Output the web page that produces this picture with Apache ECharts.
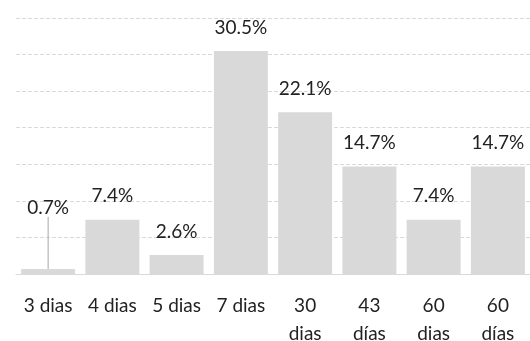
<!DOCTYPE html>
<html>
<head>
<meta charset="utf-8">
<script src="https://cdn.jsdelivr.net/npm/echarts@6/dist/echarts.min.js"></script>
<style>
  html, body { margin: 0; padding: 0; background: #fff; }
  #chart { width: 530px; height: 341px; }
</style>
</head>
<body>
<div id="chart"></div>
<script>
// Share of cases by duration (percent)
const categories = ['3 dias', '4 dias', '5 dias', '7 dias', '30\ndias', '43\ndías', '60\ndias', '60\ndías'];
const shares = [0.7, 7.4, 2.6, 30.5, 22.1, 14.7, 7.4, 14.7];
const yTicks = { min: 0, max: 35, interval: 5 };

const FONT = 'Lato';
const chart = echarts.init(document.getElementById('chart'));

const barData = shares.map((v, i) => {
  const item = { value: v };
  if (i === 0) {
    // tiny bar: its label sits higher, joined to the bar by a guide line
    item.labelLine = { show: true, lineStyle: { color: '#a6a6a6', width: 1 } };
  }
  return item;
});

chart.setOption({
  animation: false,
  grid: { left: 16, right: 0, top: 18, bottom: 67, containLabel: false, outerBoundsMode: 'none' },
  xAxis: {
    type: 'category',
    data: categories,
    axisLine: { show: true, lineStyle: { color: '#d9d9d9', width: 1 } },
    axisTick: { show: false },
    axisLabel: {
      color: '#222', fontFamily: FONT, fontSize: 19, lineHeight: 28, margin: 18,
      interval: 0
    }
  },
  yAxis: {
    type: 'value',
    min: yTicks.min, max: yTicks.max, interval: yTicks.interval,
    axisLabel: { show: false },
    axisLine: { show: false },
    axisTick: { show: false },
    splitLine: { show: true, lineStyle: { color: '#d9d9d9', type: [4, 2], width: 1 } }
  },
  series: [{
    type: 'bar',
    data: barData,
    barCategoryGap: '16%',
    itemStyle: { color: '#d9d9d9' },
    label: {
      show: true, position: 'top', distance: 14,
      color: '#222', fontFamily: FONT, fontSize: 19,
      formatter: p => p.value.toFixed(1) + '%'
    },
    labelLayout: p => (p.dataIndex === 0 ? { dy: -38 } : {})
  }]
});
</script>
</body>
</html>
